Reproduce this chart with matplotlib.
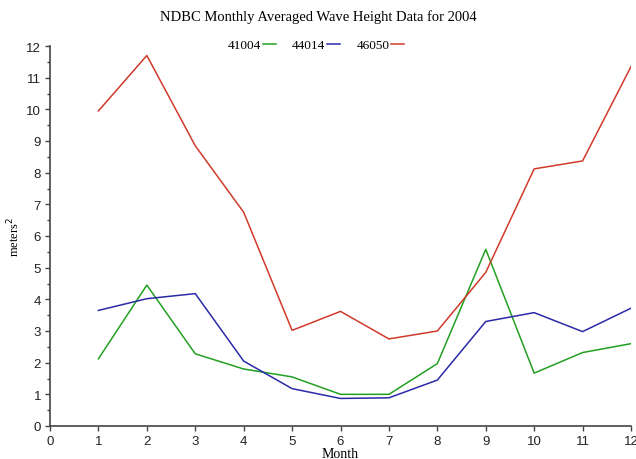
import matplotlib
matplotlib.use('Agg')
import matplotlib.pyplot as plt
from matplotlib.ticker import MultipleLocator

# 月份与各浮标的月平均波高
months = [1, 2, 3, 4, 5, 6, 7, 8, 9, 10, 11, 12]
h_41004 = [2.12, 4.45, 2.28, 1.80, 1.55, 1.00, 1.00, 1.97, 5.58, 1.67, 2.32, 2.60]
h_44014 = [3.65, 4.02, 4.18, 2.05, 1.18, 0.87, 0.89, 1.45, 3.30, 3.58, 2.98, 3.72]
h_46050 = [9.95, 11.70, 8.85, 6.75, 3.02, 3.62, 2.75, 3.00, 4.85, 8.12, 8.37, 11.35]

stations = ['41004', '44014', '46050']
colors = ['#22a022', '#2a2aa8', '#d03a2a']

serif = ['Liberation Serif', 'DejaVu Serif']
sans = ['Liberation Sans', 'DejaVu Sans']

fig = plt.figure(figsize=(6.36, 4.60), dpi=100)
ax = fig.add_axes([50 / 636, 33 / 460, 581 / 636, 380 / 460])

for name, vals, c in zip(stations, [h_41004, h_44014, h_46050], colors):
    ax.plot(months, vals, color=c, linewidth=1.1, label=name)

ax.set_xlim(0, 12)
ax.set_ylim(0, 12)
ax.xaxis.set_major_locator(MultipleLocator(1))
ax.yaxis.set_major_locator(MultipleLocator(1))
ax.yaxis.set_minor_locator(MultipleLocator(0.5))

for s in ['top', 'right']:
    ax.spines[s].set_visible(False)
for s in ['left', 'bottom']:
    ax.spines[s].set_color('#444444')
    ax.spines[s].set_linewidth(1.2)

ax.tick_params(which='both', direction='out', color='#444444', width=1)
ax.tick_params(which='major', length=3.5, labelsize=9.5, pad=3)
ax.tick_params(which='minor', length=2)
for lab in ax.get_xticklabels() + ax.get_yticklabels():
    lab.set_family(sans)
    lab.set_color('#222222')
ax.get_xticklabels()[-1].set_clip_on(False)

ax.set_xlabel('Month', family=serif, fontsize=10, labelpad=0)
ax.set_ylabel('meters$^2$', family=serif, fontsize=9)
ax.yaxis.set_label_coords(-0.047, 0.5)

fig.text(0.5, 1 - 17 / 460, 'NDBC Monthly Averaged Wave Height Data for 2004',
         ha='center', va='center', family=serif, fontsize=10.5)

leg = fig.legend(loc='center', bbox_to_anchor=(0.497, 1 - 46 / 460), ncol=3,
                 frameon=False, markerfirst=False, handlelength=1.0,
                 handletextpad=0.15, columnspacing=1.2,
                 prop={'family': serif, 'size': 9.5})

fig.savefig('out.png', dpi=100)
